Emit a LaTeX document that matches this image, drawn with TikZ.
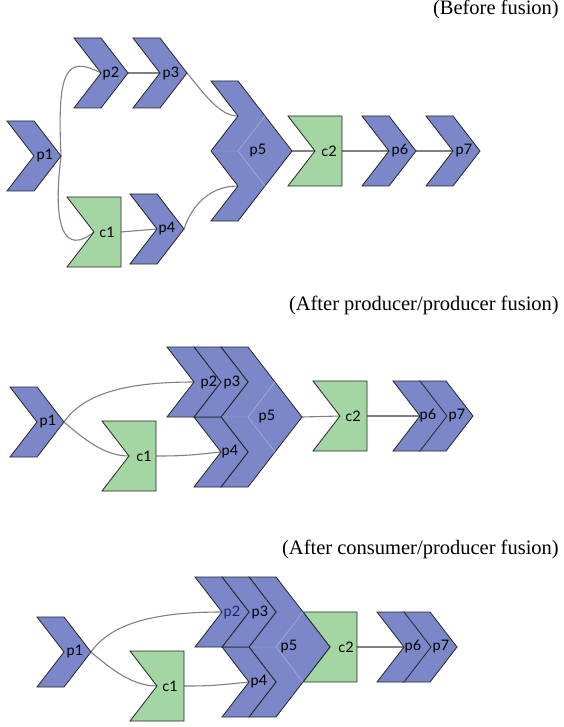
\documentclass[tikz,border=0pt]{standalone}
\usepackage{fontspec}
\setmainfont{Liberation Serif}
\newfontfamily\lblfont{Lato}
\definecolor{chevblue}{RGB}{123,135,200}
\definecolor{consgreen}{RGB}{163,214,163}
\definecolor{edgegray}{RGB}{128,128,128}
\definecolor{navylbl}{RGB}{30,35,110}
\pgfdeclarelayer{bg}
\pgfsetlayers{bg,main}
\tikzset{
  chevfill/.style={fill=chevblue,draw=black!85,line width=0.8pt,line join=miter},
  consfill/.style={fill=consgreen,draw=black!85,line width=0.8pt,line join=miter},
  faint/.style={draw=chevblue!55!white,line width=0.4pt},
  lbl/.style={inner sep=0pt,font=\lblfont\fontsize{14.5}{15}\selectfont},
  conn/.style={draw=edgegray,line width=1.1pt},
  ttl/.style={anchor=base east,inner sep=0pt,font=\fontsize{20.5}{22}\selectfont}
}
% chevron: name, x, y, label, label dx
\newcommand{\chv}[5]{%
  \path[chevfill] (#2,#3) -- ++(27,0) -- ++(27,35) -- ++(-27,35) -- ++(-27,0) -- ++(27,-35) -- cycle;
  \node[lbl] (#1) at (#2+#5,#3+35) {#4};
  \coordinate (#1-in) at (#2+27,#3+35);
  \coordinate (#1-out) at (#2+54,#3+35);
}
% consumer: name, x, y, label, label dx
\newcommand{\cns}[5]{%
  \path[consfill] (#2,#3) -- ++(54,0) -- ++(0,70) -- ++(-54,0) -- ++(27,-35) -- cycle;
  \node[lbl] (#1) at (#2+#5,#3+35) {#4};
  \coordinate (#1-in) at (#2+27,#3+35);
  \coordinate (#1-out) at (#2+54,#3+35);
}
% fused chevron: name, x, y, label, label dx
\newcommand{\fch}[5]{%
  \path[chevfill] (#2,#3) -- ++(27,0) -- ++(54,70) -- ++(-54,70) -- ++(-27,0) -- ++(27,-35) -- ++(-27,-35) -- ++(27,-35) -- cycle;
  \draw[faint] (#2,#3+70) -- ++(27,0) -- ++(27,-35);
  \draw[faint] (#2+27,#3+70) -- ++(27,35);
  \node[lbl] (#1) at (#2+#5,#3+70) {#4};
  \coordinate (#1-in1) at (#2+27,#3+35);
  \coordinate (#1-in2) at (#2+27,#3+105);
  \coordinate (#1-out) at (#2+81,#3+70);
}
\begin{document}
\begin{tikzpicture}[x=1pt,y=-1pt]
\useasboundingbox (0,0) rectangle (563,727);

% ---------- titles ----------
\node[ttl] (t1) at (559,15) {(Before fusion)};
\node[ttl] (t2) at (559,310) {(After producer/producer fusion)};
\node[ttl] (t3) at (559,554) {(After consumer/producer fusion)};

% ---------- panel 1 ----------
\fch{A5}{211}{81}{p5}{47}
\chv{A1}{7}{121}{p1}{38}
\chv{A2}{74}{38}{p2}{37}
\chv{A3}{133}{38}{p3}{38}
\cns{Ac1}{67}{197}{c1}{40}
\chv{A4}{130}{194}{p4}{37}
\cns{Ac2}{288}{116}{c2}{41}
\chv{A6}{362}{116}{p6}{38}
\chv{A7}{426}{116}{p7}{38}
\begin{pgfonlayer}{bg}
\draw[conn] (A1-out) .. controls +(-4,-86) and +(-35,-18) .. (A2-in);
\draw[conn] (A1-out) .. controls +(-9,74) and +(-29,23) .. (Ac1-in);
\draw[conn] (A2-out) -- (A3-in);
\draw[conn] (Ac1-out) -- (A4-in);
\draw[conn] (A3-out) .. controls +(18,22) and +(-18,0) .. (A5-in1);
\draw[conn] (A4-out) .. controls +(8,-24) and +(-28,0) .. (A5-in2);
\draw[conn] (A5-out) -- (Ac2-in);
\draw[conn] (Ac2-out) -- (A6-in);
\draw[conn] (A6-out) -- (A7-in);
\end{pgfonlayer}

% ---------- panel 2 ----------
\fch{B5}{221}{347}{p5}{46}
\chv{B4}{194}{417}{p4}{36}
\chv{B3}{194}{347}{p3}{38}
\chv{B2}{167}{347}{p2}{42}
\chv{B1}{10}{387}{p1}{38}
\cns{Bc1}{102}{421}{c1}{42}
\cns{Bc2}{313}{381}{c2}{40}
\chv{B7}{419}{381}{p7}{38}
\chv{B6}{393}{381}{p6}{35}
\begin{pgfonlayer}{bg}
\draw[conn] (B1-out) .. controls +(21,-30) and +(-64,0) .. (B2-in);
\draw[conn] (B1-out) .. controls +(21,18) and +(-24,0) .. (Bc1-in);
\draw[conn] (Bc1-out) .. controls +(30,0) and +(-30,3) .. (B4-in);
\draw[conn] (B5-out) -- (Bc2-in);
\draw[conn] (Bc2-out) -- (B6-in);
\end{pgfonlayer}

% ---------- panel 3 ----------
\cns{Cc2}{303}{612}{c2}{43}
\fch{C5}{249}{577}{p5}{40}
\chv{C4}{222}{647}{p4}{37}
\chv{C3}{222}{577}{p3}{38}
\chv{C2}{195}{577}{\textcolor{navylbl}{p2}}{37}
\chv{C1}{37}{617}{p1}{38}
\cns{Cc1}{130}{651}{c1}{40}
\chv{C7}{403}{612}{p7}{38}
\chv{C6}{377}{612}{p6}{36}
\begin{pgfonlayer}{bg}
\draw[conn] (C1-out) .. controls +(21,-30) and +(-64,0) .. (C2-in);
\draw[conn] (C1-out) .. controls +(21,18) and +(-24,0) .. (Cc1-in);
\draw[conn] (Cc1-out) .. controls +(30,0) and +(-30,3) .. (C4-in);
\draw[conn] (Cc2-out) -- (C6-in);
\end{pgfonlayer}
\end{tikzpicture}
\end{document}
